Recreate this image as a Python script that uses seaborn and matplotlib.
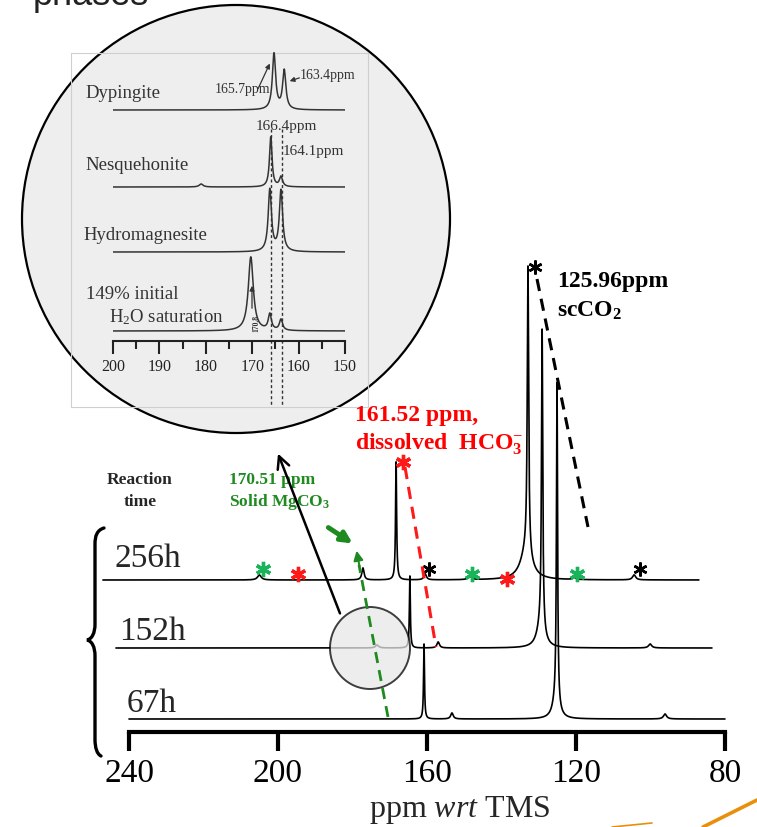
import numpy as np
import pandas as pd
import matplotlib
matplotlib.use("Agg")
import matplotlib.pyplot as plt
import seaborn as sns
from matplotlib.patches import Ellipse, Rectangle, PathPatch
from matplotlib.path import Path

# ------------------------------------------------------------------ data
reaction_times = ["256h", "152h", "67h"]
row_shift_ppm = [7.0, 3.5, 0.0]          # stacked-plot horizontal skew
row_baseline = [152, 84, 13]             # stacked-plot vertical offset

# peaks of each main spectrum: position (ppm), height, half width (ppm)
pk_256_pos = [198.0, 170.2, 161.3, 153.5, 141.5, 125.9, 126.4, 113.4, 97.4]
pk_256_hgt = [5, 12, 118, 6, 4, 288, 28, 2, 5]
pk_256_wid = [0.6, 0.35, 0.17, 0.4, 0.5, 0.22, 1.8, 0.5, 0.5]

pk_152_pos = [169.9, 161.1, 153.5, 125.6, 126.0, 96.6]
pk_152_hgt = [3, 72, 6, 300, 21, 4]
pk_152_wid = [0.5, 0.15, 0.4, 0.2, 1.2, 0.5]

pk_67_pos = [160.8, 153.3, 125.1, 125.4, 96.1]
pk_67_hgt = [75, 6, 320, 18, 5]
pk_67_wid = [0.15, 0.4, 0.18, 1.0, 0.5]

main_ticks = [240, 200, 160, 120, 80]

# inset (literature reference spectra)
inset_phases = ["Dypingite", "Nesquehonite", "Hydromagnesite", "149%"]
inset_baseline = [231, 154, 89, 10]
in_dyp_pos, in_dyp_hgt, in_dyp_wid = [165.3, 163.1], [56, 39], [0.42, 0.42]
in_nes_pos, in_nes_hgt, in_nes_wid = [181.0, 166.0, 163.8], [3, 50, 10], [0.5, 0.33, 0.4]
in_hyd_pos, in_hyd_hgt, in_hyd_wid = [166.2, 163.8], [62, 61], [0.42, 0.42]
in_149_pos, in_149_hgt, in_149_wid = [170.3, 166.2, 163.8], [74, 16, 11], [0.65, 0.4, 0.4]
inset_major = [200, 190, 180, 170, 160, 150]
inset_minor = [195, 185, 175, 165, 155]
inset_dashed = [166.0, 163.6]

# asterisk markers (plot ppm, height) in main axes
ast_green = [(204.0, 163), (147.9, 158), (119.7, 158)]
ast_red = [(194.6, 158), (138.5, 153), (166.4, 270)]
ast_black = [(159.5, 163), (102.8, 163), (131.0, 465)]


def lorentz_sum(x, pos, hgt, wid):
    y = np.zeros_like(x)
    for p, h, w in zip(pos, hgt, wid):
        y += h / (1.0 + ((x - p) / w) ** 2)
    return y


# ------------------------------------------------------------------ style
sns.set_theme(style="white")
plt.rcParams["font.family"] = ["Liberation Serif", "DejaVu Serif"]
plt.rcParams["mathtext.fontset"] = "custom"
plt.rcParams["mathtext.rm"] = "Liberation Serif"
plt.rcParams["mathtext.it"] = "Liberation Serif:italic"
plt.rcParams["mathtext.bf"] = "Liberation Serif:bold"

W, H = 757, 828
fig = plt.figure(figsize=(W / 100, H / 100), dpi=100)
fig.patch.set_facecolor("white")


def fig_rect(x0, y0, x1, y1):
    return [x0 / W, 1 - y1 / H, (x1 - x0) / W, (y1 - y0) / H]


# background overlay (pixel coordinates)
bg = fig.add_axes([0, 0, 1, 1], zorder=0)
bg.set_xlim(0, W)
bg.set_ylim(H, 0)
bg.axis("off")
bg.add_patch(Ellipse((236, 220), 428, 428, facecolor="#eeeeee",
                     edgecolor="black", lw=1.6, zorder=1))
bg.add_patch(Rectangle((71, 54), 297, 354, facecolor="none",
                       edgecolor="#cfcfcf", lw=0.8, zorder=2))
bg.text(33, 5, "phases", fontsize=26, family="Liberation Sans",
        color="#222222", va="baseline", ha="left")

# ------------------------------------------------------------------ main axes
ax = fig.add_axes(fig_rect(129, 250, 725, 733), zorder=2)
ax.patch.set_visible(False)
x_act = np.arange(240.0, 80.0, -0.01)
rows = []
for name, sh, base, pos, hgt, wid in zip(
        reaction_times, row_shift_ppm, row_baseline,
        [pk_256_pos, pk_152_pos, pk_67_pos],
        [pk_256_hgt, pk_152_hgt, pk_67_hgt],
        [pk_256_wid, pk_152_wid, pk_67_wid]):
    rows.append(pd.DataFrame({"ppm": x_act + sh,
                              "signal": base + lorentz_sum(x_act, pos, hgt, wid),
                              "time": name}))
df = pd.concat(rows, ignore_index=True)
sns.lineplot(data=df, x="ppm", y="signal", hue="time", palette=["black"] * 3,
             estimator=None, sort=False, legend=False, lw=1.2, ax=ax)
for ln in ax.lines:
    ln.set_clip_on(False)

ax.set_xlim(240, 80)
ax.set_ylim(0, 483)
ax.set_xticks(main_ticks)
ax.set_xticklabels([str(t) for t in main_ticks])
ax.set_yticks([])
ax.set_ylabel("")
for s in ["left", "right", "top"]:
    ax.spines[s].set_visible(False)
ax.spines["bottom"].set_linewidth(3.0)
ax.spines["bottom"].set_color("black")
ax.tick_params(axis="x", direction="out", length=13.5, width=3.0,
               labelsize=24, pad=5, colors="black", bottom=True)
ax.set_xlabel("ppm $\\mathit{wrt}$ TMS", fontsize=23)
ax.xaxis.label.set_va("baseline")
ax.xaxis.set_label_coords((460 - 129) / 596, -(817 - 733) / 483)

for (px, py) in ast_green:
    ax.plot(px, py, marker=(6, 2, 0), ms=11, mew=2.4, color="#19b35a",
            clip_on=False, zorder=5)
for (px, py) in ast_red:
    ax.plot(px, py, marker=(6, 2, 0), ms=11, mew=2.4, color="#ff1a1a",
            clip_on=False, zorder=5)
for (px, py) in ast_black:
    ax.plot(px, py, marker=(6, 2, 0), ms=10, mew=1.8, color="black",
            clip_on=False, zorder=5)

# ------------------------------------------------------------------ inset axes
ai = fig.add_axes(fig_rect(113, 50, 345, 342), zorder=3)
ai.patch.set_visible(False)
xi = np.arange(200.0, 150.0, -0.01)
irows = []
for name, base, pos, hgt, wid in zip(
        inset_phases, inset_baseline,
        [in_dyp_pos, in_nes_pos, in_hyd_pos, in_149_pos],
        [in_dyp_hgt, in_nes_hgt, in_hyd_hgt, in_149_hgt],
        [in_dyp_wid, in_nes_wid, in_hyd_wid, in_149_wid]):
    irows.append(pd.DataFrame({"ppm": xi,
                               "signal": base + lorentz_sum(xi, pos, hgt, wid),
                               "phase": name}))
dfi = pd.concat(irows, ignore_index=True)
sns.lineplot(data=dfi, x="ppm", y="signal", hue="phase",
             palette=["#333333"] * 4, estimator=None, sort=False,
             legend=False, lw=1.1, ax=ai)
ai.set_xlim(200, 150)
ai.set_ylim(0, 292)
ai.set_xticks(inset_major)
ai.set_xticks(inset_minor, minor=True)
ai.set_xticklabels([str(t) for t in inset_major])
ai.set_yticks([])
ai.set_xlabel("")
ai.set_ylabel("")
for s in ["left", "right", "top"]:
    ai.spines[s].set_visible(False)
ai.spines["bottom"].set_linewidth(1.5)
ai.spines["bottom"].set_color("#222222")
ai.tick_params(axis="x", which="major", direction="out", length=9.5,
               width=1.5, labelsize=11.5, pad=3, colors="#222222", bottom=True)
ai.tick_params(axis="x", which="minor", direction="out", length=5.5,
               width=1.5, colors="#222222", bottom=True)
for xv in inset_dashed:
    ai.plot([xv, xv], [212, -65], ls=(0, (2.2, 1.8)), color="#333333",
            lw=1.0, clip_on=False)

# ------------------------------------------------------------------ foreground overlay
fg = fig.add_axes([0, 0, 1, 1], zorder=4)
fg.set_xlim(0, W)
fg.set_ylim(H, 0)
fg.axis("off")
fg.patch.set_visible(False)

ink = "#333333"
for txt, x0, yb in [("Dypingite", 85, 98), ("Nesquehonite", 85, 170),
                    ("Hydromagnesite", 83, 240), ("149% initial", 86, 299),
                    ("H$_2$O saturation", 109, 322)]:
    fg.text(x0, yb, txt, fontsize=13.5, color=ink, va="baseline", ha="left")
fg.text(215, 93, "165.7ppm", fontsize=10, color=ink, va="baseline")
fg.text(300, 79, "163.4ppm", fontsize=10, color=ink, va="baseline")
fg.text(256, 130, "166.4ppm", fontsize=11, color=ink, va="baseline")
fg.text(283, 155, "164.1ppm", fontsize=11, color=ink, va="baseline")
fg.text(256, 323, "170.8", fontsize=5.5, fontweight="bold", color=ink,
        rotation=90, ha="center", va="center")
fg.annotate("", xy=(271, 62), xytext=(257, 92),
            arrowprops=dict(arrowstyle="-|>", color=ink, lw=0.9,
                            mutation_scale=7))
fg.annotate("", xy=(287, 83), xytext=(302, 78),
            arrowprops=dict(arrowstyle="-|>", color=ink, lw=0.9,
                            mutation_scale=7))
fg.annotate("", xy=(252, 284), xytext=(252, 312),
            arrowprops=dict(arrowstyle="-|>", color=ink, lw=0.9,
                            mutation_scale=7))

# row labels
fg.text(115, 567, "256h", fontsize=24, va="baseline", ha="left")
fg.text(119, 640, "152h", fontsize=24, va="baseline", ha="left")
fg.text(127, 712, "67h", fontsize=24, va="baseline", ha="left")
fg.text(140, 484, "Reaction", fontsize=12.5, fontweight="bold",
        va="baseline", ha="center")
fg.text(140, 506, "time", fontsize=12.5, fontweight="bold",
        va="baseline", ha="center")

green = "#1f8a1f"
fg.text(229, 484, "170.51 ppm", fontsize=12.5, fontweight="bold",
        color=green, va="baseline")
fg.text(229, 506, "Solid MgCO$_\\mathbf{3}$", fontsize=12.5,
        fontweight="bold", color=green, va="baseline")
fg.text(355, 421, "161.52 ppm,", fontsize=17, fontweight="bold",
        color="#ff0000", va="baseline")
fg.text(355, 450, "dissolved  HCO$_\\mathbf{3}^{-}$", fontsize=17,
        fontweight="bold", color="#ff0000", va="baseline")
fg.text(557, 287, "125.96ppm", fontsize=17, fontweight="bold",
        color="black", va="baseline")
fg.text(557, 317, "scCO$_\\mathbf{2}$", fontsize=17, fontweight="bold",
        color="black", va="baseline")

# brace
verts = [(104, 529), (97, 531), (95, 537), (95, 545),
         (95, 625),
         (95, 634), (92, 640), (87, 641),
         (92, 642), (95, 648), (95, 657),
         (95, 740),
         (95, 749), (97, 755), (101, 757)]
codes = [Path.MOVETO, Path.CURVE4, Path.CURVE4, Path.CURVE4,
         Path.LINETO,
         Path.CURVE4, Path.CURVE4, Path.CURVE4,
         Path.CURVE4, Path.CURVE4, Path.CURVE4,
         Path.LINETO,
         Path.CURVE4, Path.CURVE4, Path.CURVE4]
fg.add_patch(PathPatch(Path(verts, codes), facecolor="none",
                       edgecolor="black", lw=2.4, capstyle="round"))

# dashed guide lines
fg.plot([537, 588], [280, 528], color="black", lw=2.2, ls=(0, (4, 2.6)))
fg.plot([405, 436], [468, 648], color="#ff1a1a", lw=2.2, ls=(0, (4, 2.6)))

# small magnifier circle
fg.add_patch(Ellipse((370, 649), 80, 82, facecolor="#e8e8e8", alpha=0.75,
                     edgecolor="black", lw=1.4, zorder=2))
fg.annotate("", xy=(277, 452), xytext=(341, 617),
            arrowprops=dict(arrowstyle="->", color="black", lw=1.8,
                            mutation_scale=22), zorder=3)

# green dashed arrow
fg.plot([388, 359], [718, 566], color=green, lw=2.0,
        ls=(0, (4, 2.6)), zorder=4)
fg.annotate("", xy=(356, 549), xytext=(360, 570),
            arrowprops=dict(arrowstyle="-|>", color=green, lw=1.5,
                            mutation_scale=14), zorder=4)
fg.annotate("", xy=(355, 546), xytext=(326, 527),
            arrowprops=dict(arrowstyle="-|>", color=green, lw=3.5,
                            mutation_scale=16), zorder=4)

# decorative orange stroke at bottom-right
fg.plot([612, 652], [828, 824], color="#e8900c", lw=1.2)
fg.plot([703, 757], [828, 801], color="#e8900c", lw=2.6)

fig.savefig("out.png", dpi=100, facecolor="white")
